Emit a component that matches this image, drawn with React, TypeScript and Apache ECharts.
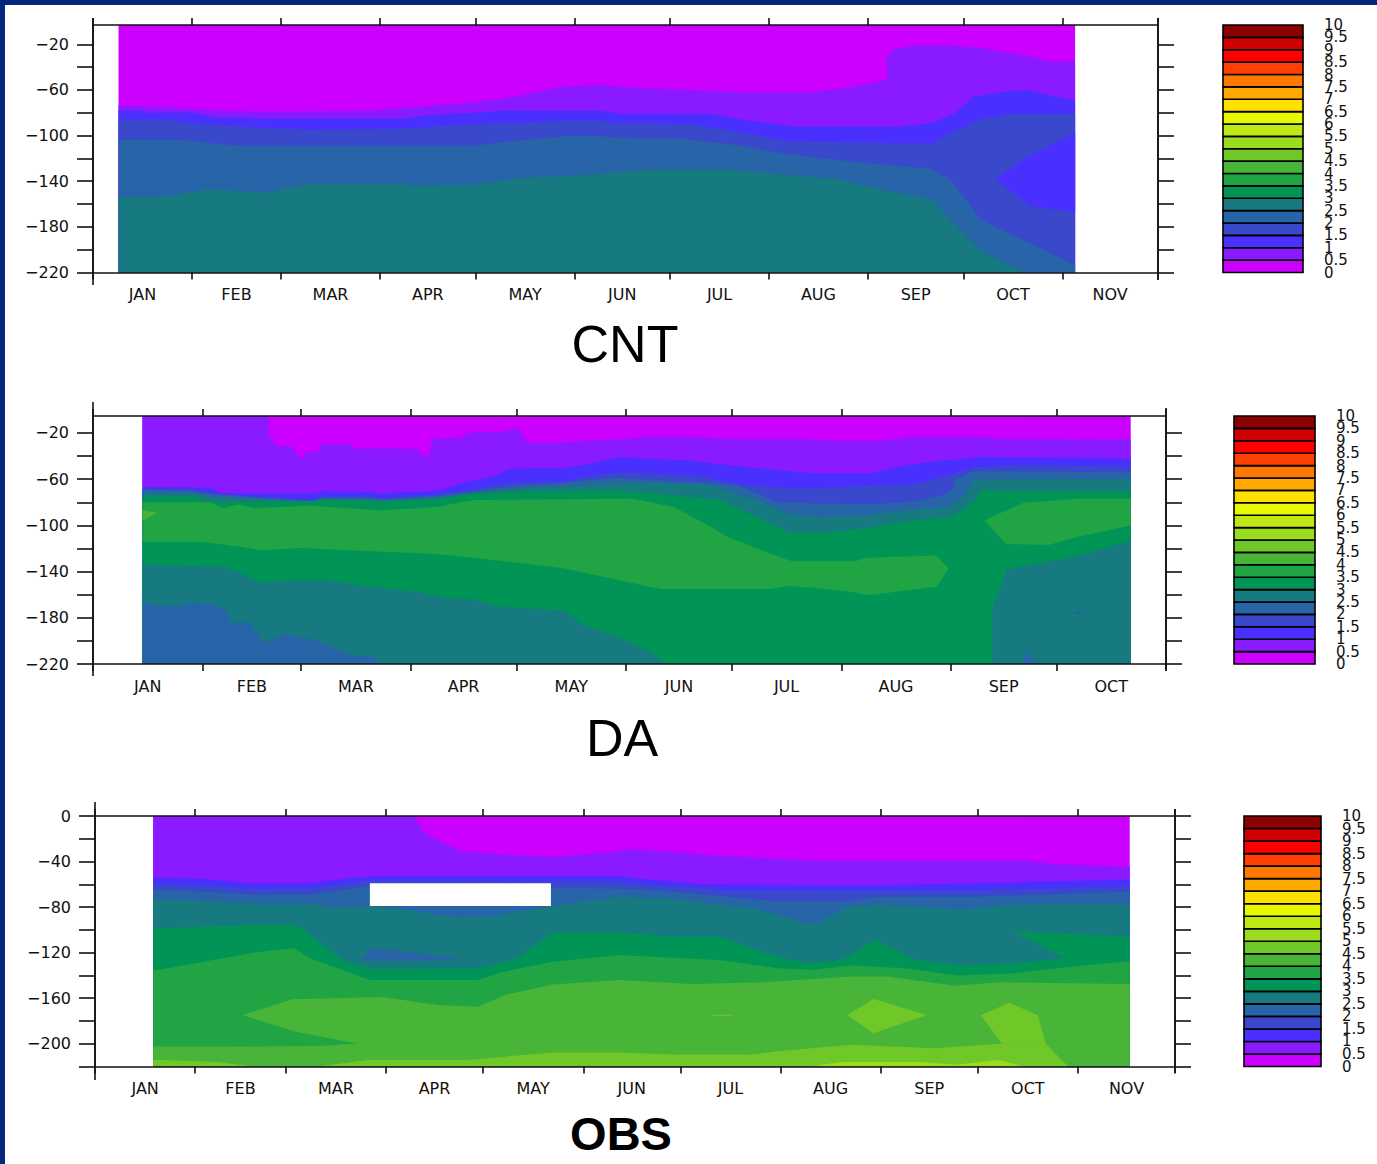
import React, { useEffect, useRef } from "react";
import * as echarts from "echarts";

type Pt = [number, number];

const LEVEL_COLORS = ["#cc00ff","#8a1aff","#4a30ff","#3a48cc","#2864a8","#167a80","#009456","#20a444","#48b438","#70c828","#9cdc1e","#c0e814","#e8f800","#ffe000","#ffa800","#ff7800","#ff4000","#ff0000","#d00000","#8b0000"];
const MONTHS = ["JAN","FEB","MAR","APR","MAY","JUN","JUL","AUG","SEP","OCT","NOV"];
const MONTH_STARTS = [0,31,59,90,120,151,181,212,243,273,304,334];
const COLORBAR_WHOLE = [0,1,2,3,4,5,6,7,8,9,10];
const COLORBAR_HALF = [0.5,1.5,2.5,3.5,4.5,5.5,6.5,7.5,8.5,9.5];

// ---- CNT contours: [day of year, depth]
const CNT_B1: Pt[] = [[8,-74],[22,-75],[38,-78],[55,-79],[88,-78],[105,-74],[120,-71],[132,-66],[148,-57],[159,-56],[175,-59],[188,-60],[204,-62],[224,-62],[237,-58],[249,-51],[249,-37],[248.5,-34],[251,-24],[259,-21],[268,-21],[278,-23],[293,-30],[300,-35],[308,-35]];
const CNT_B2: Pt[] = [[8,-78],[15,-78],[16,-80],[31,-80],[38,-84],[53,-85],[68,-85],[98,-85],[105,-82],[120,-80],[129,-78],[159,-78],[165,-81],[193,-81],[206,-87],[220,-92],[253,-92],[263,-89],[270,-81],[276,-66],[284,-62],[293,-60],[301,-65],[308,-69]];
const CNT_B3: Pt[] = [[8,-86],[22,-86],[30,-89],[45,-92],[68,-95],[97,-94],[114,-91],[129,-89],[148,-87],[159,-87],[165,-89],[188,-90],[201,-96],[218,-105],[263,-107],[269,-98],[278,-86],[288,-81],[308,-81]];
const CNT_B4: Pt[] = [[8,-103.5],[30,-104],[38,-107],[46,-109],[120,-109],[129,-105.5],[148,-100.5],[159,-100.5],[165,-102],[186,-103],[201,-108],[217,-116],[238,-123],[263,-129],[269,-139],[278.5,-174],[295,-196],[308,-213.5]];
const CNT_B5: Pt[] = [[8,-154],[22,-154],[36,-147],[43,-148],[54,-150],[68,-142],[97,-142],[100,-144],[120,-143],[136,-137],[159,-134],[172,-130],[201,-130],[211,-133],[234,-138],[248,-148],[263,-156],[270,-177],[279,-202],[292,-220],[308,-220]];
const CNT_ISLAND: Pt[] = [[283,-138],[293,-119],[308,-97],[308,-167],[294,-162]];

// ---- DA contours
const DA_B1: Pt[] = [[14,-5.3],[49.8,-5.3],[49.8,-22],[52,-31],[56,-31.5],[59,-42],[60.5,-37],[64,-36],[64.5,-30],[72,-29],[75,-34],[82,-33],[92,-34],[93,-39],[95.4,-39],[96,-25],[105,-24],[106,-20],[116,-19],[120,-16],[123,-28],[134,-28],[149,-25.5],[158,-23.5],[168.5,-23.5],[180,-25],[200,-25],[214,-27],[221,-27],[233,-23.5],[252.5,-23.5],[255.5,-25],[294,-25.5]];
const DA_B2: Pt[] = [[14,-67],[28,-67],[34,-68],[36,-72],[47,-72.5],[63,-72.5],[64.5,-70.5],[79,-71],[80,-72.5],[98,-70],[105,-63],[114,-57],[118,-51],[134,-50],[140,-47],[149,-41],[170,-44],[180,-48],[204,-55],[220,-55],[230,-48],[240,-44],[251.5,-41],[294,-42]];
const DA_B3: Pt[] = [[14,-68],[28,-69],[34,-72],[47,-75],[63,-78],[64.5,-75],[79,-75],[82,-77],[98,-73],[105,-70],[114,-65],[118,-63],[134,-62],[140,-58],[149,-54],[159,-55],[171,-57],[183,-64],[197,-68],[204,-68],[233,-64],[242,-57],[244,-55],[250.5,-49.5],[264,-48],[294,-49]];
const DA_B4: Pt[] = [[14,-69],[28,-70],[34,-73],[47,-76],[63,-79],[64.5,-76],[79,-76],[82,-77.5],[98,-74.5],[105,-72],[114,-68],[122,-65],[134,-63],[140,-61],[149,-59],[158,-61],[175,-63],[183,-66],[194,-80],[206,-81],[220,-82],[233,-79],[241,-74],[244,-68],[244,-61],[249.5,-53],[294,-54]];
const DA_B5: Pt[] = [[14,-72],[28,-72],[34,-75],[47,-77.5],[63,-80],[64.5,-77],[79,-77.5],[82,-78],[98,-75.5],[105,-72.5],[114,-70],[122,-68],[134,-66],[149,-63],[158,-63],[175,-65],[188,-78],[197,-90],[206,-93],[220,-91],[230,-87],[243,-84],[248,-70],[250,-60],[294,-60]];
const DA_B6: Pt[] = [[14,-75],[28,-75],[34,-79],[38,-80],[47,-79],[61,-79],[64.5,-77.5],[82,-79],[98,-77.5],[105,-73.5],[122,-70.5],[149,-69.5],[159,-72.5],[178,-78],[197,-106],[209,-106],[220,-102],[232,-96],[243,-93],[249.5,-80],[251.5,-70],[294,-70]];
const DA_LIGHT_MAIN: Pt[] = [[14,-80],[33,-80],[37,-85],[41,-82],[46,-85],[61.5,-83],[82,-87],[97,-84],[108,-78],[149,-77],[153,-77],[164.5,-84],[172.6,-97],[180,-110],[188,-120],[198,-131],[216,-131],[219,-128],[239,-126],[242.4,-137.5],[239,-153],[220,-160.5],[215,-157.6],[204,-154],[197,-152.5],[192,-155],[161,-155],[149,-147.6],[134,-137.5],[122,-133],[108,-128],[96,-124.5],[72,-121.6],[59,-119.6],[48,-121.6],[38,-117],[31,-114.4],[14,-114.4]];
const DA_LIGHT_RIGHT: Pt[] = [[252.5,-95.6],[263.6,-80.3],[278.8,-77],[294,-77],[294,-100],[278.8,-110],[270.7,-117],[258.6,-116]];
const DA_TIP: Pt[] = [[14,-87],[18.3,-89],[14,-96]];
const DA_B8: Pt[] = [[14,-134],[38,-136],[48,-150],[55,-147.6],[67.5,-147.6],[76,-152.5],[92,-157.6],[100,-163],[108,-164],[114,-170],[134,-174],[138,-185],[149,-196.6],[158,-210],[162.5,-220],[254.8,-220],[254.8,-172],[259,-138],[279,-126.5],[294,-113.5]];
const DA_B9: Pt[] = [[14,-167],[19,-170],[25,-170],[28,-167],[34,-168],[38,-175],[39,-184],[44,-184],[49,-202],[54,-194],[62.5,-199],[74,-213],[79,-213],[81,-220],[294,-220]];
const DA_SPOT_A: Pt[] = [[263.8,-209.6],[268.2,-220],[263.8,-220]];
const DA_SPOT_B: Pt[] = [[277.8,-175],[280.3,-175],[279,-177]];

// ---- OBS contours
const OBS_B1: Pt[] = [[18,0],[98.6,0],[102,-15],[113,-31],[127,-34],[142,-36],[162,-31],[166,-29],[176,-31],[193,-35],[222,-39],[287,-39],[299,-42.5],[320,-44.5]];
const OBS_B2: Pt[] = [[18,-54],[33.5,-55],[48,-59],[66.6,-59],[80,-54],[86.5,-53],[162,-53],[169,-55],[188,-60],[240,-61],[273,-59],[320,-56]];
const OBS_B3: Pt[] = [[18,-60],[33.5,-61],[48.8,-64],[66.6,-63.5],[84,-57],[162,-57.5],[173,-60.5],[195.5,-65],[240,-65],[273,-65],[320,-62]];
const OBS_B4: Pt[] = [[18,-64.5],[33.5,-66.5],[48.8,-69],[66.6,-69],[84,-62],[162,-64],[173,-65],[195.5,-71],[210,-74.7],[233,-74.7],[242,-71],[273,-71],[320,-66.5]];
const OBS_B5: Pt[] = [[18,-73],[48,-76.7],[66.6,-76.7],[74,-80.5],[85,-79],[93,-81],[111,-89],[122,-88.4],[141,-79],[162,-71],[176,-72.3],[204,-81],[220,-94.3],[223,-94.3],[233,-79.6],[242,-78],[255,-79.6],[268,-82.6],[282,-78],[320,-77.6]];
const OBS_B6: Pt[] = [[18,-99],[33.5,-97],[48,-96],[62.7,-96],[69,-110],[76.5,-126.5],[85,-134],[118.5,-134],[130.6,-125],[141.6,-102],[162,-102],[177,-106],[193,-106],[209,-122],[220,-129],[231,-126.5],[241,-109],[254,-126.5],[268,-131],[284,-129.4],[300,-125],[320,-125]];
const OBS_WEDGE_RIGHT: Pt[] = [[284,-101],[320,-106],[320,-125],[300,-125]];
const OBS_B7: Pt[] = [[18,-136],[33.5,-128],[49,-120],[61.6,-116],[66.6,-125],[85,-144],[118.5,-144],[126,-137],[141.6,-128],[162,-122],[173,-123.6],[193,-126.5],[212,-134],[223,-135],[234,-131],[251,-134],[267,-140],[284,-138],[306,-131],[320,-127.5]];
const OBS_B8: Pt[] = [[18,-202.5],[45.6,-202.5],[45.6,-175],[61,-161],[73,-160],[89,-159],[106,-166],[118.5,-167.5],[127,-157],[141.6,-148],[162,-144],[184.5,-147.6],[206.6,-146],[234,-141],[245,-141],[266,-149],[279.4,-146],[320,-147.6]];
const OBS_WEDGE_LEFT: Pt[] = [[43,-176],[45.6,-175],[62,-189.4],[81,-199.7],[71,-201.7],[45.6,-202.5],[43,-202.5]];
const OBS_B9: Pt[] = [[18,-214],[38,-216],[48,-219.5],[70,-219.5],[85,-214],[116,-214],[141.6,-207.6],[162,-207.6],[179,-209.4],[203,-209.4],[212,-206.4],[234,-201],[259.5,-204],[280.5,-200],[294,-200],[301,-220],[320,-220]];
const OBS_TONGUE: Pt[] = [[280.5,-200],[274,-175],[282.7,-164],[291.6,-175],[294,-200]];
const OBS_DIAMOND: Pt[] = [[232.5,-174.8],[240.8,-160.8],[257.3,-174.8],[240.8,-190.9]];
const OBS_DASH: Pt[] = [[191,-174.5],[197,-174.5],[197,-175.5],[191,-175.5]];
const OBS_BOTTOM: Pt[] = [[221,-220],[230.8,-216],[256.2,-216],[266.2,-218.5],[279.4,-214.3],[286.6,-219.5],[287,-220]];
const OBS_STEEL: Pt[] = [[82,-126.5],[85.9,-115.7],[99.7,-120.6],[114,-125],[104,-127],[88.6,-127.4]];
const OBS_MISSING: Pt[] = [[85,-59],[141,-59],[141,-79],[85,-79]];

type Layer = { kind: "front" | "patch"; level: number; points: Pt[]; color?: string };
const fr = (level: number, points: Pt[]): Layer => ({ kind: "front", level, points });
const pa = (level: number, points: Pt[], color?: string): Layer => ({ kind: "patch", level, points, color });

const PANELS = [
  {
    title: "CNT", bold: false, titleX: 625, titleTop: 318,
    left: 93, right: 1158, top: 25, bottom: 272.5, lastMonth: 11, yMax: -3.1, xStart: 8, xEnd: 308,
    yLabels: [-220,-180,-140,-100,-60,-20], yTicks: [-220,-200,-180,-160,-140,-120,-100,-80,-60,-40,-20],
    barLeft: 1223, barRight: 1303, capL: [18, 285], capR: [18, 280],
    layers: [fr(1,CNT_B1),fr(2,CNT_B2),fr(3,CNT_B3),fr(4,CNT_B4),fr(5,CNT_B5),pa(2,CNT_ISLAND)],
  },
  {
    title: "DA", bold: false, titleX: 622, titleTop: 712,
    left: 93, right: 1166, top: 416, bottom: 664, lastMonth: 10, yMax: -5.3, xStart: 14, xEnd: 294,
    yLabels: [-220,-180,-140,-100,-60,-20], yTicks: [-220,-200,-180,-160,-140,-120,-100,-80,-60,-40,-20],
    barLeft: 1234, barRight: 1315, capL: [402, 676], capR: [408, 671],
    layers: [fr(1,DA_B1),fr(2,DA_B2),fr(3,DA_B3),fr(4,DA_B4),fr(5,DA_B5),fr(6,DA_B6),pa(7,DA_LIGHT_MAIN),pa(7,DA_LIGHT_RIGHT),pa(8,DA_TIP),fr(5,DA_B8),fr(4,DA_B9),pa(4,DA_SPOT_A),pa(3,DA_SPOT_B)],
  },
  {
    title: "OBS", bold: true, titleX: 621, titleTop: 1110,
    left: 95, right: 1175, top: 816, bottom: 1066.5, lastMonth: 11, yMax: 0, xStart: 18, xEnd: 320,
    yLabels: [-200,-160,-120,-80,-40,0], yTicks: [-220,-200,-180,-160,-140,-120,-100,-80,-60,-40,-20,0],
    barLeft: 1244, barRight: 1321, capL: [802, 1080], capR: [809, 1073],
    layers: [fr(1,OBS_B1),fr(2,OBS_B2),fr(3,OBS_B3),fr(4,OBS_B4),fr(5,OBS_B5),pa(4,OBS_STEEL),pa(99,OBS_MISSING,"#ffffff"),fr(6,OBS_B6),pa(6,OBS_WEDGE_RIGHT),fr(7,OBS_B7),fr(8,OBS_B8),pa(7,OBS_WEDGE_LEFT),fr(9,OBS_B9),pa(9,OBS_TONGUE),pa(9,OBS_DIAMOND),pa(9,OBS_DASH),pa(10,OBS_BOTTOM)],
  },
];

const AXIS_FONT = "DejaVu Sans";
const INK = "#111111";

function buildOption() {
  const grid: any[] = [], xAxis: any[] = [], yAxis: any[] = [], series: any[] = [], title: any[] = [], graphic: any[] = [];
  const W = 1377, H = 1164;
  graphic.push({ type: "rect", shape: { x: 0, y: 0, width: W, height: 5 }, style: { fill: "#05257e" }, silent: true });
  graphic.push({ type: "rect", shape: { x: 0, y: 0, width: 5, height: H }, style: { fill: "#05257e" }, silent: true });

  // plot grids come first (index = panel), colour-bar grids after them
  const n = PANELS.length;
  PANELS.forEach((p) => grid.push({ left: p.left, top: p.top, width: p.right - p.left, height: p.bottom - p.top, containLabel: false }));
  PANELS.forEach((p) => grid.push({ left: p.barLeft, top: p.top, width: p.barRight - p.barLeft, height: p.bottom - p.top, containLabel: false }));

  PANELS.forEach((p, idx) => {
    const xA = idx * 2, yA = idx * 2;
    const starts = MONTH_STARTS.slice(0, p.lastMonth + 1);
    const mids = starts.slice(0, -1).map((s, i) => (s + starts[i + 1]) / 2);
    const xMax = starts[starts.length - 1];
    const line = { show: true, onZero: false, lineStyle: { color: INK, width: 1.6 } };
    xAxis.push({
      gridIndex: idx, type: "value", position: "bottom", min: 0, max: xMax, z: 50,
      axisLine: line, splitLine: { show: false },
      axisTick: { show: true, customValues: starts, length: 7, lineStyle: { color: INK, width: 1.6 } },
      axisLabel: {
        show: true, customValues: mids, margin: 14, color: INK, fontFamily: AXIS_FONT, fontSize: 16,
        formatter: (v: number) => MONTHS[mids.findIndex((m) => Math.abs(m - v) < 0.01)] ?? "",
      },
    });
    xAxis.push({
      gridIndex: idx, type: "value", position: "top", min: 0, max: xMax, z: 50,
      axisLine: line, splitLine: { show: false },
      axisTick: { show: true, customValues: starts, length: 7, lineStyle: { color: INK, width: 1.6 } },
      axisLabel: { show: false },
    });
    yAxis.push({
      gridIndex: idx, type: "value", position: "left", min: -220, max: p.yMax, z: 50,
      axisLine: line, splitLine: { show: false },
      axisTick: { show: true, customValues: p.yTicks, length: 16, lineStyle: { color: INK, width: 1.6 } },
      axisLabel: {
        show: true, customValues: p.yLabels, margin: 24, color: INK, fontFamily: AXIS_FONT, fontSize: 16,
        formatter: (v: number) => (v < 0 ? "\u2212" + Math.abs(v) : String(v)),
      },
    });
    yAxis.push({
      gridIndex: idx, type: "value", position: "right", min: -220, max: p.yMax, z: 50,
      axisLine: line, splitLine: { show: false },
      axisTick: { show: true, customValues: p.yTicks, length: 16, lineStyle: { color: INK, width: 1.6 } },
      axisLabel: { show: false },
    });

    const base = { xAxisIndex: xA, yAxisIndex: yA, silent: true };
    series.push({
      ...base, type: "line", name: p.title + " 0", z: 2, symbol: "none", showSymbol: false,
      data: [[p.xStart, p.yMax], [p.xEnd, p.yMax]] as Pt[],
      lineStyle: { width: 0 }, areaStyle: { color: LEVEL_COLORS[0], opacity: 1, origin: "start" },
    });
    p.layers.forEach((l: Layer, li: number) => {
      const color = l.color ?? LEVEL_COLORS[l.level];
      if (l.kind === "front") {
        series.push({
          ...base, type: "line", z: 3 + li, symbol: "none", showSymbol: false, data: l.points,
          lineStyle: { width: 0 }, areaStyle: { color, opacity: 1, origin: "start" },
        });
      } else {
        const pts = l.points;
        series.push({
          ...base, type: "custom", z: 3 + li, data: pts, encode: { x: 0, y: 1 },
          renderItem: (params: any, api: any) =>
            params.dataIndex !== 0 ? null : {
              type: "polygon",
              shape: { points: pts.map((q) => api.coord(q)) },
              style: { fill: color },
            },
        });
      }
    });
  });

  PANELS.forEach((p, idx) => {
    const labelStyle = {
      show: true, showMinLabel: true, showMaxLabel: true, margin: 21, align: "left",
      color: INK, fontFamily: AXIS_FONT, fontSize: 15, formatter: (v: number) => String(v),
    };
    xAxis.push({ gridIndex: n + idx, type: "value", min: 0, max: 1, show: false });
    // whole and half labels on two axes: neighbours overlap in the reference, and one axis would drop them
    yAxis.push({
      gridIndex: n + idx, type: "value", position: "right", min: 0, max: 10,
      axisLine: { show: false }, axisTick: { show: false }, splitLine: { show: false },
      axisLabel: { ...labelStyle, customValues: COLORBAR_WHOLE },
    });
    yAxis.push({
      gridIndex: n + idx, type: "value", position: "right", min: 0, max: 10,
      axisLine: { show: false }, axisTick: { show: false }, splitLine: { show: false },
      axisLabel: { ...labelStyle, customValues: COLORBAR_HALF },
    });
    series.push({
      type: "custom", xAxisIndex: 2 * n + idx, yAxisIndex: 2 * n + 2 * idx, silent: true, z: 5,
      data: LEVEL_COLORS.map((_, i) => [0, i * 0.5]),
      encode: { x: 0, y: 1 },
      renderItem: (params: any, api: any) => {
        const i = params.dataIndex;
        const a = api.coord([0, i * 0.5]);
        const b = api.coord([1, (i + 1) * 0.5]);
        return {
          type: "rect",
          shape: { x: a[0], y: b[1], width: b[0] - a[0], height: a[1] - b[1] },
          style: { fill: LEVEL_COLORS[i], stroke: "#000000", lineWidth: 1.6 },
        };
      },
    });
    title.push({
      text: p.title, left: p.titleX, top: p.titleTop, textAlign: "center", padding: 0,
      textStyle: { fontFamily: "Liberation Sans", fontSize: p.bold ? 47 : 52, fontWeight: p.bold ? "bold" : "normal", color: "#000000" },
    });
    // axis lines overshoot the frame at the corners
    [[p.left, p.capL], [p.right, p.capR]].forEach(([x, cap]: any) => {
      graphic.push({
        type: "line", z: 60, silent: true,
        shape: { x1: x, y1: cap[0], x2: x, y2: cap[1] },
        style: { stroke: INK, lineWidth: 1.6 },
      });
    });
  });

  return { animation: false, backgroundColor: "#ffffff", grid, xAxis, yAxis, series, title, graphic };
}

export default function App() {
  const ref = useRef<HTMLDivElement>(null);
  useEffect(() => {
    document.body.style.margin = "0";
    const chart = echarts.init(ref.current!, undefined, { renderer: "svg" });
    chart.setOption(buildOption() as any);
    return () => chart.dispose();
  }, []);
  return <div ref={ref} style={{ width: 1377, height: 1164, display: "block" }} />;
}
